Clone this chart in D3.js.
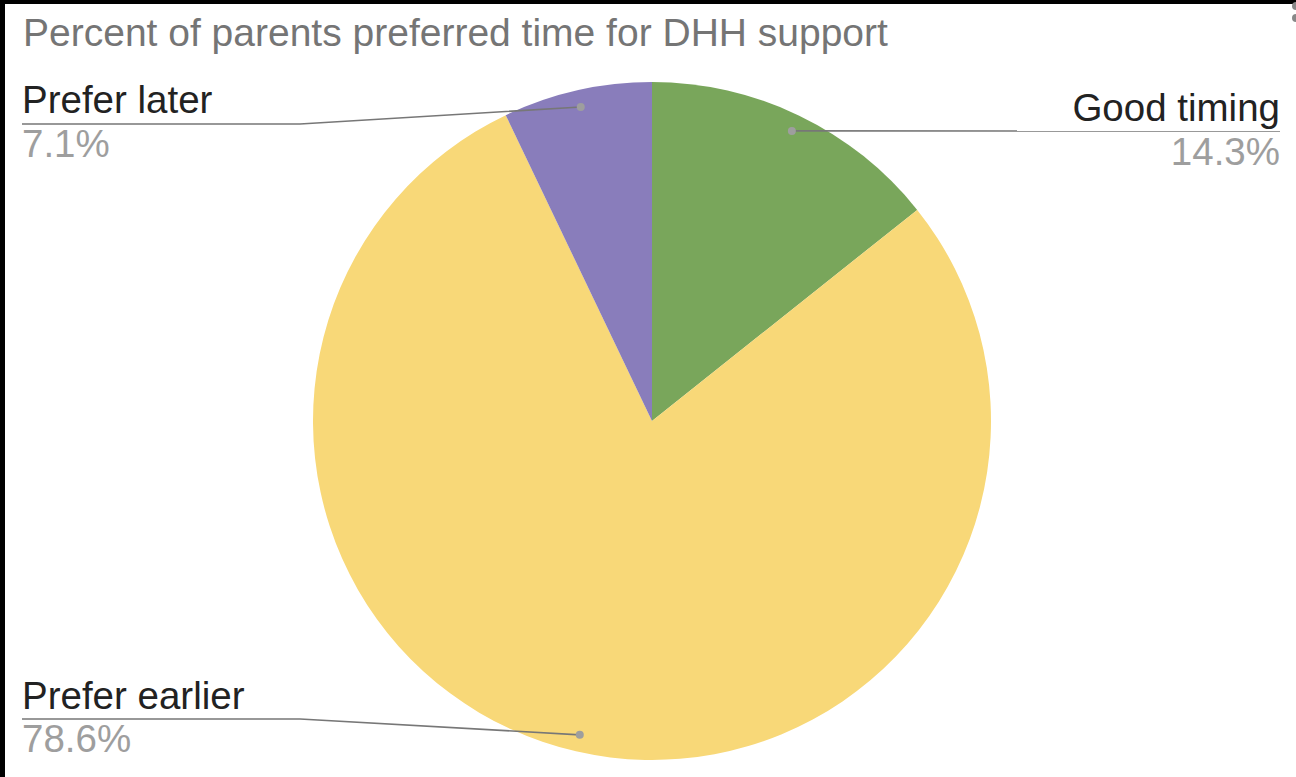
<!DOCTYPE html>
<html>
<head>
<meta charset="utf-8">
<script src="https://cdn.jsdelivr.net/npm/d3@7"></script>
<style>
  body { margin: 0; background: #fff; }
  svg { display: block; font-family: "Liberation Sans", Arial, sans-serif; }
</style>
</head>
<body>
<script>
const categories = ["Good timing", "Prefer earlier", "Prefer later"];
const percents = [14.3, 78.6, 7.1];
const colors = ["#79a65b", "#f8d878", "#897dbb"];
const title = "Percent of parents preferred time for DHH support";

const width = 1296;
const height = 777;
const cx = 652, cy = 421, radius = 339;

const svg = d3.select("body").append("svg")
  .attr("width", width)
  .attr("height", height);

// black frame edges from the screenshot
svg.append("rect").attr("x", 0).attr("y", 0).attr("width", width).attr("height", 4).attr("fill", "#000");
svg.append("rect").attr("x", 0).attr("y", 0).attr("width", 5).attr("height", height).attr("fill", "#000");
svg.append("circle").attr("cx", 1296).attr("cy", 6).attr("r", 4).attr("fill", "#888");
svg.append("circle").attr("cx", 1296).attr("cy", 18).attr("r", 4).attr("fill", "#888");

svg.append("text")
  .attr("x", 23).attr("y", 46)
  .attr("font-size", 39)
  .attr("fill", "#757575")
  .text(title);

const data = categories.map((c, i) => ({ name: c, value: percents[i], color: colors[i] }));

const pie = d3.pie().sort(null).value(d => d.value);
const arc = d3.arc().innerRadius(0).outerRadius(radius);
const dotArc = d3.arc().innerRadius(radius * 0.95).outerRadius(radius * 0.95);

const g = svg.append("g").attr("transform", `translate(${cx},${cy})`);
const arcs = pie(data);

g.selectAll("path.slice")
  .data(arcs)
  .enter()
  .append("path")
  .attr("class", "slice")
  .attr("d", arc)
  .attr("fill", d => d.data.color);

// label layout: where each callout ends
const labelPos = {
  "Good timing":    { side: "right", x: 1280, lineY: 131, nameY: 121, valY: 165, bend: 1280 },
  "Prefer earlier": { side: "left",  x: 22,   lineY: 719, nameY: 709, valY: 752, bend: 300 },
  "Prefer later":   { side: "left",  x: 22,   lineY: 124, nameY: 113, valY: 157, bend: 300 }
};

const labels = svg.append("g");
arcs.forEach(d => {
  const p = labelPos[d.data.name];
  const c = dotArc.centroid(d);
  const dx = cx + c[0], dy = cy + c[1];
  labels.append("path")
    .attr("d", `M${dx},${dy}L${p.bend},${p.lineY}L${p.x},${p.lineY}`)
    .attr("fill", "none")
    .attr("stroke", "#777")
    .attr("stroke-width", 1.6);
  labels.append("circle")
    .attr("cx", dx).attr("cy", dy).attr("r", 4)
    .attr("fill", "#9e9e9e");
  const anchor = p.side === "right" ? "end" : "start";
  labels.append("text")
    .attr("x", p.x).attr("y", p.nameY)
    .attr("text-anchor", anchor)
    .attr("font-size", 38.5)
    .attr("fill", "#222")
    .text(d.data.name);
  labels.append("text")
    .attr("x", p.x).attr("y", p.valY)
    .attr("text-anchor", anchor)
    .attr("font-size", 38.5)
    .attr("fill", "#9e9e9e")
    .text(d.data.value.toFixed(1) + "%");
});
</script>
</body>
</html>
